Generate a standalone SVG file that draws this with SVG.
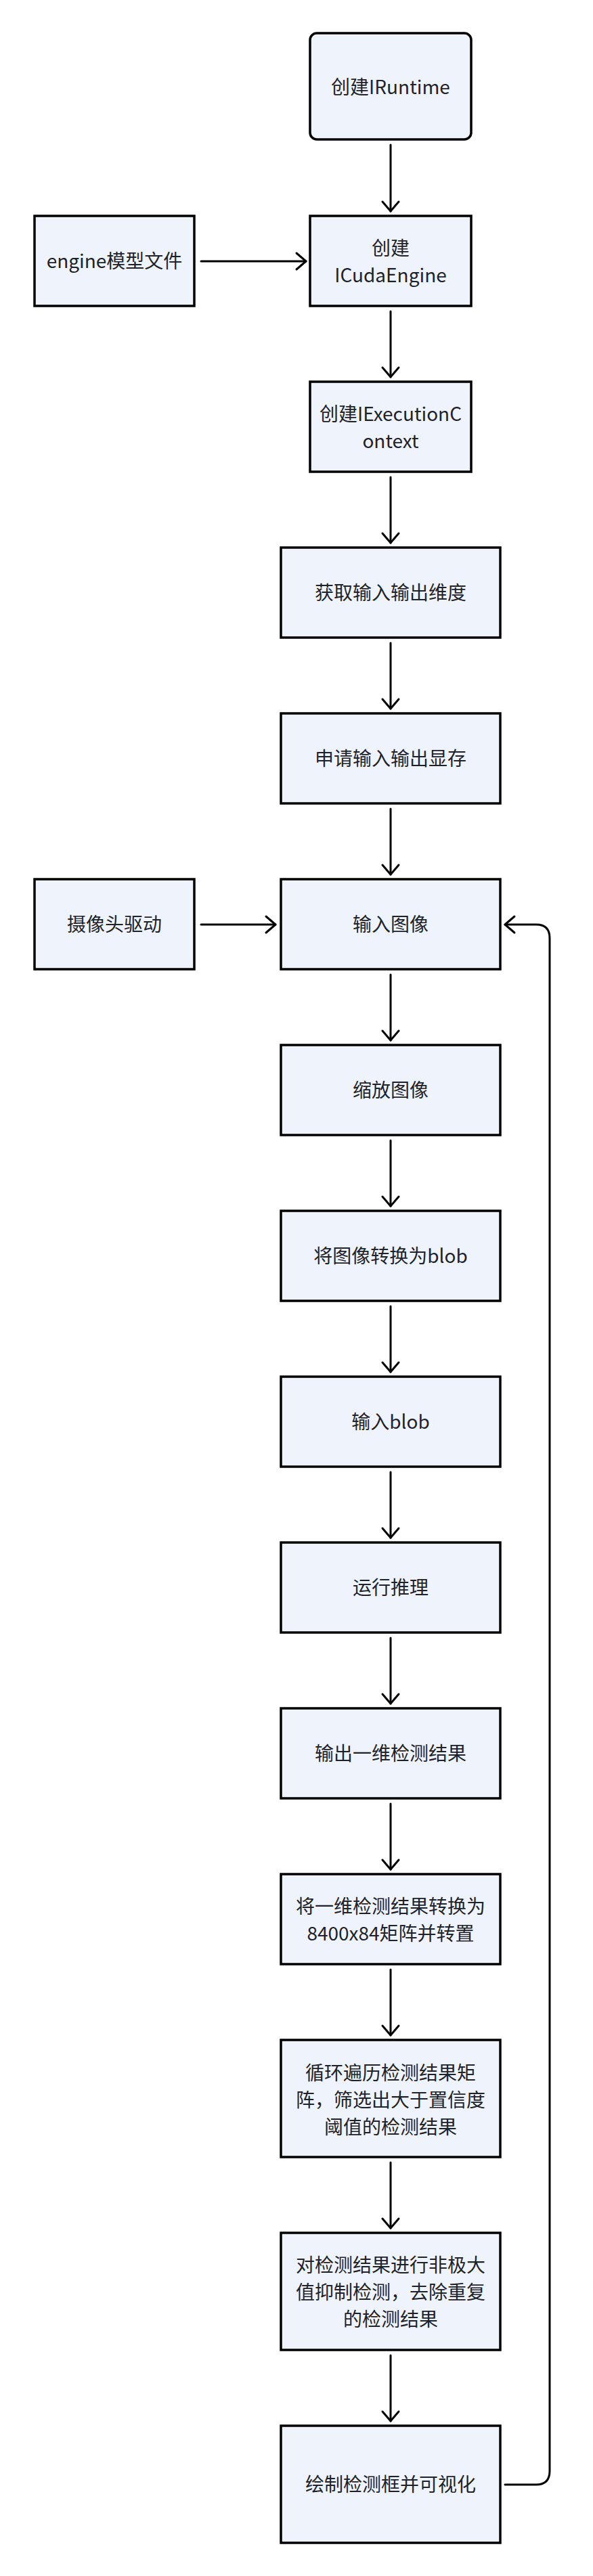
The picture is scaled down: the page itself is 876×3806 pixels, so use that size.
<svg xmlns="http://www.w3.org/2000/svg" width="876" height="3806" viewBox="0 0 876 3806">
<style>
.box{fill:#eef3fc;stroke:#000;stroke-width:3.5}
.lbl{font-family:"Noto Sans CJK SC","Noto Sans",sans-serif;font-size:28px;fill:#1f2329;text-anchor:middle}
.con{fill:none;stroke:#000;stroke-width:3;stroke-linecap:round;stroke-linejoin:round}
</style>
<defs>
<marker id="arr" viewBox="-17 -15 20 30" refX="0" refY="0" markerWidth="20" markerHeight="30" markerUnits="userSpaceOnUse" orient="auto">
<path d="M -14 -12 L 0 0 L -14 12" fill="none" stroke="#000" stroke-width="3" stroke-linecap="round" stroke-linejoin="round"/>
</marker>
</defs>
<rect width="876" height="3806" fill="#fff"/>
<g id="connectors">
<path class="con" marker-end="url(#arr)" d="M 577 214 V 312"/>
<path class="con" marker-end="url(#arr)" d="M 577 460 V 557"/>
<path class="con" marker-end="url(#arr)" d="M 577 705 V 802"/>
<path class="con" marker-end="url(#arr)" d="M 577 950 V 1047"/>
<path class="con" marker-end="url(#arr)" d="M 577 1195 V 1292"/>
<path class="con" marker-end="url(#arr)" d="M 577 1440 V 1537"/>
<path class="con" marker-end="url(#arr)" d="M 577 1685 V 1782"/>
<path class="con" marker-end="url(#arr)" d="M 577 1930 V 2027"/>
<path class="con" marker-end="url(#arr)" d="M 577 2175 V 2272"/>
<path class="con" marker-end="url(#arr)" d="M 577 2420 V 2517"/>
<path class="con" marker-end="url(#arr)" d="M 577 2665 V 2762"/>
<path class="con" marker-end="url(#arr)" d="M 577 2910 V 3007"/>
<path class="con" marker-end="url(#arr)" d="M 577 3195 V 3292"/>
<path class="con" marker-end="url(#arr)" d="M 577 3480 V 3577"/>
<path class="con" marker-end="url(#arr)" d="M 297 386 H 452"/>
<path class="con" marker-end="url(#arr)" d="M 297 1366 H 407"/>
<path class="con" marker-end="url(#arr)" d="M 746 3671 H 792 Q 812 3671 812 3651 V 1386 Q 812 1366 792 1366 H 746"/>
</g>
<g id="n1"><rect class="box" x="458" y="49" width="238" height="157" rx="10"/><text class="lbl" x="577" y="139">创建IRuntime</text></g>
<g id="n2"><rect class="box" x="458" y="319" width="238" height="133"/><text class="lbl" x="577" y="377">创建</text><text class="lbl" x="577" y="417">ICudaEngine</text></g>
<g id="n3"><rect class="box" x="51" y="319" width="236" height="133"/><text class="lbl" x="169" y="396">engine模型文件</text></g>
<g id="n4"><rect class="box" x="458" y="564" width="238" height="133"/><text class="lbl" x="577" y="622">创建IExecutionC</text><text class="lbl" x="577" y="662">ontext</text></g>
<g id="n5"><rect class="box" x="415" y="809" width="324" height="133"/><text class="lbl" x="577" y="886">获取输入输出维度</text></g>
<g id="n6"><rect class="box" x="415" y="1054" width="324" height="133"/><text class="lbl" x="577" y="1131">申请输入输出显存</text></g>
<g id="n7"><rect class="box" x="415" y="1299" width="324" height="133"/><text class="lbl" x="577" y="1376">输入图像</text></g>
<g id="n7b"><rect class="box" x="51" y="1299" width="236" height="133"/><text class="lbl" x="169" y="1376">摄像头驱动</text></g>
<g id="n8"><rect class="box" x="415" y="1544" width="324" height="133"/><text class="lbl" x="577" y="1621">缩放图像</text></g>
<g id="n9"><rect class="box" x="415" y="1789" width="324" height="133"/><text class="lbl" x="577" y="1866">将图像转换为blob</text></g>
<g id="n10"><rect class="box" x="415" y="2034" width="324" height="133"/><text class="lbl" x="577" y="2111">输入blob</text></g>
<g id="n11"><rect class="box" x="415" y="2279" width="324" height="133"/><text class="lbl" x="577" y="2356">运行推理</text></g>
<g id="n12"><rect class="box" x="415" y="2524" width="324" height="133"/><text class="lbl" x="577" y="2601">输出一维检测结果</text></g>
<g id="n13"><rect class="box" x="415" y="2769" width="324" height="133"/><text class="lbl" x="577" y="2827">将一维检测结果转换为</text><text class="lbl" x="577" y="2867">8400x84矩阵并转置</text></g>
<g id="n14"><rect class="box" x="415" y="3014" width="324" height="173"/><text class="lbl" x="577" y="3073">循环遍历检测结果矩</text><text class="lbl" x="577" y="3113">阵，筛选出大于置信度</text><text class="lbl" x="577" y="3153">阈值的检测结果</text></g>
<g id="n15"><rect class="box" x="415" y="3299" width="324" height="173"/><text class="lbl" x="577" y="3357">对检测结果进行非极大</text><text class="lbl" x="577" y="3397">值抑制检测，去除重复</text><text class="lbl" x="577" y="3437">的检测结果</text></g>
<g id="n16"><rect class="box" x="415" y="3584" width="324" height="173"/><text class="lbl" x="577" y="3681">绘制检测框并可视化</text></g>
</svg>
